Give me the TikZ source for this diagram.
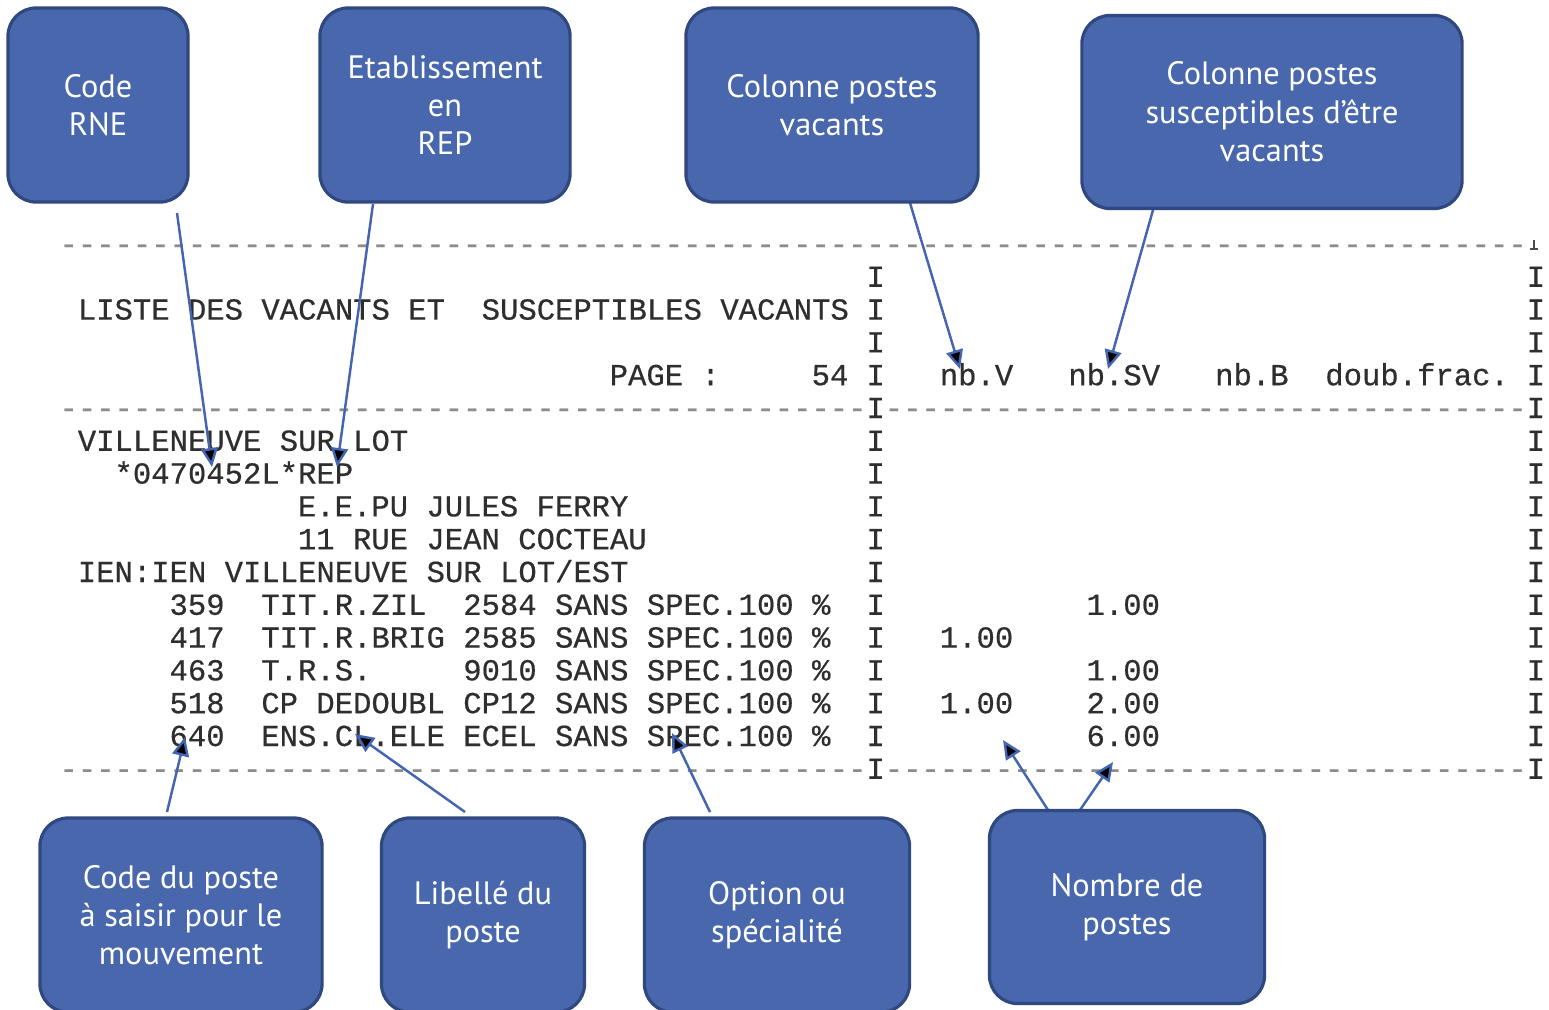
\documentclass[tikz,border=0pt]{standalone}
\usepackage{fontspec}
\newfontfamily\boxfont{PT Sans}
\newfontfamily\prtfont[FakeBold=0.5]{Liberation Mono}
\usetikzlibrary{arrows.meta}

\definecolor{boxfill}{RGB}{72,103,172}
\definecolor{boxedge}{RGB}{47,72,128}
\definecolor{arrowblue}{RGB}{68,101,178}

%put a piece of the listing at a row / column of the printout
\newcommand{\prtat}[5][]{\node[prt,#1] (#2) at ({58.8+18.34*#4},{254+32.8*#3}) {#5};}

\begin{document}
\begin{tikzpicture}[x=0.01cm,y=-0.01cm,>={Triangle[length=5.4pt,width=4.8pt]},
	box/.style={rectangle,rounded corners=8pt,draw=boxedge,fill=boxfill,line width=0.9pt,text=white,align=center,inner sep=0pt,font=\boxfont\fontsize{9.2pt}{10.9pt}\selectfont},
	prt/.style={anchor=base west,inner sep=0pt,text=black!82,font=\prtfont\frenchspacing\fontsize{8.7pt}{10pt}\selectfont},
	rule/.style={text=black!45},
	pointer/.style={->,draw=arrowblue,line width=0.7pt}]

	\useasboundingbox (0,0) rectangle (1549,1009);

	%the dashed rules and the I columns of the listing
	\begin{scope}
		\foreach \c in {0,...,79} {\prtat[rule]{da\c}{0}{\c}{-}}
		\foreach \c in {0,...,43} {
			\prtat[rule]{db\c}{5}{\c}{-}
			\prtat[rule]{dc\c}{16}{\c}{-}
		}
		\foreach \c in {45,...,79} {
			\prtat[rule]{db\c}{5}{\c}{-}
			\prtat[rule]{dc\c}{16}{\c}{-}
		}
		\foreach \r in {1,...,16} {
			\prtat{ia\r}{\r}{44}{I}
			\prtat{ib\r}{\r}{80}{I}
		}
		\draw[black!70,line width=0.4pt] (1534,240) -- (1534,249) (1530,249) -- (1538,249);
	\end{scope}

	%the listing itself
	\begin{scope}
		\prtat{title}{2}{1}{LISTE DES VACANTS ET~~SUSCEPTIBLES VACANTS}
		\prtat{page}{4}{30}{PAGE :~~~~~54}
		\prtat{head}{4}{48}{nb.V~~~nb.SV~~~nb.B~~doub.frac.}
		\prtat{ville}{6}{1}{VILLENEUVE SUR LOT}
		\prtat{ecole}{7}{3}{*0470452L*REP}
		\prtat{nom}{8}{13}{E.E.PU JULES FERRY}
		\prtat{rue}{9}{13}{11 RUE JEAN COCTEAU}
		\prtat{ien}{10}{1}{IEN:IEN VILLENEUVE SUR LOT/EST}
		\prtat{p359}{11}{6}{359~~TIT.R.ZIL~~2584 SANS SPEC.100 \%}
		\prtat{p417}{12}{6}{417~~TIT.R.BRIG 2585 SANS SPEC.100 \%}
		\prtat{p463}{13}{6}{463~~T.R.S.~~~~~9010 SANS SPEC.100 \%}
		\prtat{p518}{14}{6}{518~~CP DEDOUBL CP12 SANS SPEC.100 \%}
		\prtat{p640}{15}{6}{640~~ENS.CL.ELE ECEL SANS SPEC.100 \%}
		\prtat{v359}{11}{56}{1.00}
		\prtat{v417}{12}{48}{1.00}
		\prtat{v463}{13}{56}{1.00}
		\prtat{v518a}{14}{48}{1.00}
		\prtat{v518b}{14}{56}{2.00}
		\prtat{v640}{15}{56}{6.00}
	\end{scope}

	%where the arrows start and where they point to
	\coordinate (s1) at (177,213);  \coordinate (t1) at (212,467);
	\coordinate (s2) at (373,204);  \coordinate (t2) at (337,467);
	\coordinate (s3) at (910,203);  \coordinate (t3) at (960,369);
	\coordinate (s4) at (1153,210); \coordinate (t4) at (1108,369);
	\coordinate (s5) at (167,812);  \coordinate (t5) at (185,737);
	\coordinate (s6) at (465,812);  \coordinate (t6) at (355,734);
	\coordinate (s7) at (710,812);  \coordinate (t7) at (672,733);
	\coordinate (s8) at (1048,810); \coordinate (t8) at (1003,740);
	\coordinate (s9) at (1080,810); \coordinate (t9) at (1113,762);

	\path[pointer]
		(s1) edge (t1)
		(s2) edge (t2)
		(s3) edge (t3)
		(s4) edge (t4)
		(s5) edge (t5)
		(s6) edge (t6)
		(s7) edge (t7)
		(s8) edge (t8)
		(s9) edge (t9);

	%the blue label boxes
	\begin{scope}
		\node[box,minimum width=1.80cm,minimum height=1.94cm] (rne) at (98,105) {Code\\RNE};
		\node[box,minimum width=2.50cm,minimum height=1.94cm] (rep) at (445,105) {Etablissement\\en\\REP};
		\node[box,minimum width=2.92cm,minimum height=1.94cm] (nbv) at (832,105) {Colonne postes\\vacants};
		\node[box,minimum width=3.80cm,minimum height=1.93cm] (nbsv) at (1272,112) {Colonne postes\\susceptibles d’être\\vacants};
		\node[box,minimum width=2.82cm,minimum height=1.94cm] (code) at (181,915) {Code du poste\\à saisir pour le\\mouvement};
		\node[box,minimum width=2.03cm,minimum height=1.94cm] (lib) at (483,915) {Libellé du\\poste};
		\node[box,minimum width=2.65cm,minimum height=1.94cm] (opt) at (777,915) {Option ou\\spécialité};
		\node[box,minimum width=2.75cm,minimum height=1.93cm] (nb) at (1127,907) {Nombre de\\postes};
	\end{scope}
\end{tikzpicture}
\end{document}
